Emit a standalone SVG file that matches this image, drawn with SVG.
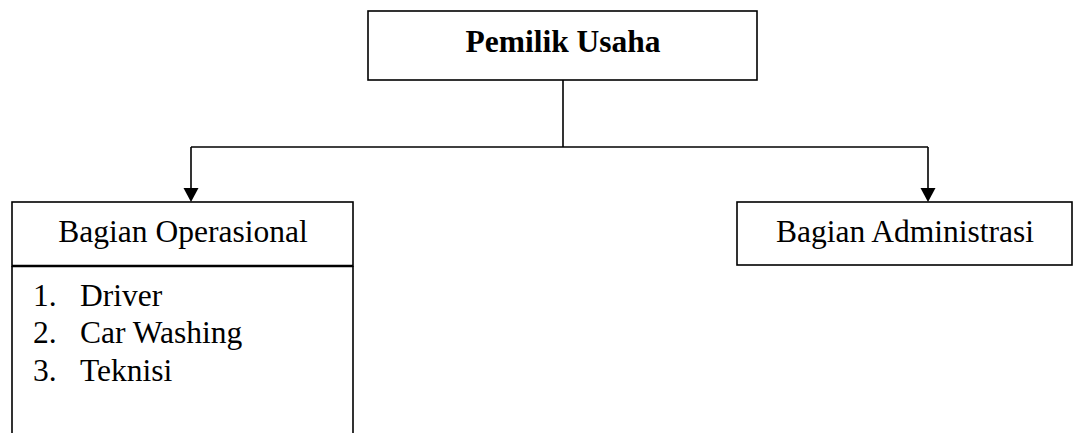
<svg xmlns="http://www.w3.org/2000/svg" width="1073" height="433" viewBox="0 0 1073 433">
<style>
.box{fill:#fff;stroke:#000;stroke-width:1.6}
.ln{fill:none;stroke:#000;stroke-width:1.6}
.head{fill:#000}
.t{font-family:"Liberation Serif","Times New Roman",serif;font-size:31.5px;fill:#000}
.b{font-weight:bold}
</style>
<g id="connectors">
<line class="ln" x1="563" y1="80" x2="563" y2="147"/>
<line class="ln" x1="191" y1="147" x2="928" y2="147"/>
<line class="ln" x1="191" y1="147" x2="191" y2="188"/>
<polygon class="head" points="183.5,188 198.5,188 191,202"/>
<line class="ln" x1="928" y1="147" x2="928" y2="188"/>
<polygon class="head" points="920.5,188 935.5,188 928,202"/>
</g>
<g id="pemilik">
<rect class="box" x="368" y="11" width="389" height="69"/>
<text class="t b" x="563" y="52" text-anchor="middle">Pemilik Usaha</text>
</g>
<g id="operasional">
<rect class="box" x="12" y="202" width="341" height="64"/>
<path class="ln" d="M12,266 L12,440 M353,266 L353,440"/>
<line x1="12" y1="266" x2="353" y2="266" stroke="#000" stroke-width="2.4"/>
<text class="t" x="183" y="242" text-anchor="middle">Bagian Operasional</text>
<text class="t" x="33" y="306">1.</text>
<text class="t" x="80" y="306">Driver</text>
<text class="t" x="33" y="343">2.</text>
<text class="t" x="80" y="343">Car Washing</text>
<text class="t" x="33" y="381">3.</text>
<text class="t" x="80" y="381">Teknisi</text>
</g>
<g id="administrasi">
<rect class="box" x="737" y="202" width="335" height="63"/>
<text class="t" x="905" y="242" text-anchor="middle">Bagian Administrasi</text>
</g>
</svg>
